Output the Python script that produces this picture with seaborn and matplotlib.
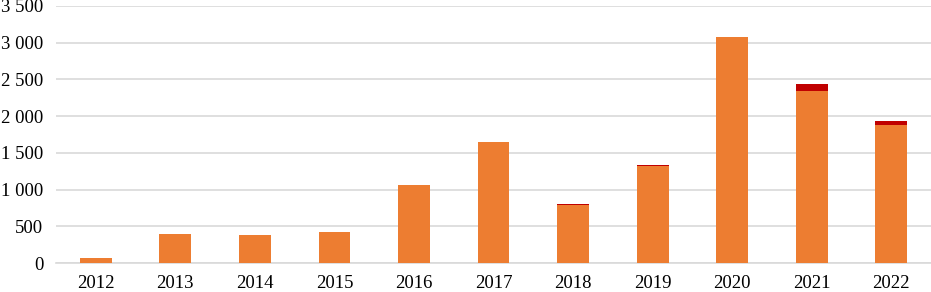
import matplotlib
matplotlib.use("Agg")
import matplotlib.pyplot as plt
import seaborn as sns
import pandas as pd

years = ["2012", "2013", "2014", "2015", "2016", "2017", "2018", "2019", "2020", "2021", "2022"]
orange_vals = [70, 390, 375, 425, 1065, 1645, 795, 1325, 3075, 2345, 1880]
red_vals = [0, 0, 0, 0, 0, 0, 10, 10, 0, 90, 55]
yticks = [0, 500, 1000, 1500, 2000, 2500, 3000, 3500]
ytick_labels = ["0", "500", "1 000", "1 500", "2 000", "2 500", "3 000", "3 500"]

sns.set_theme(style="white")
plt.rcParams["font.family"] = ["Liberation Serif", "DejaVu Serif"]

df = pd.DataFrame({"year": years, "orange": orange_vals,
                   "total": [o + r for o, r in zip(orange_vals, red_vals)]})

fig = plt.figure(figsize=(9.31, 2.92), dpi=100)
ax = fig.add_axes([56 / 931, 29 / 292, 875 / 931, 257 / 292])

sns.barplot(data=df, x="year", y="total", color="#C00000", saturation=1, width=0.4,
            linewidth=0, ax=ax, zorder=3)
sns.barplot(data=df, x="year", y="orange", color="#ED7D31", saturation=1, width=0.4,
            linewidth=0, ax=ax, zorder=4)

ax.set_ylim(0, 3500)
ax.set_yticks(yticks)
ax.set_yticklabels(ytick_labels)
ax.set_xlim(-0.5, len(years) - 0.5)
ax.yaxis.grid(True, color="#d9d9d9", linewidth=1.2, zorder=0)
ax.set_axisbelow(True)
for s in ["top", "right", "left"]:
    ax.spines[s].set_visible(False)
ax.spines["bottom"].set_color("#d9d9d9")
ax.spines["bottom"].set_linewidth(1.2)
ax.set_xlabel("")
ax.set_ylabel("")
ax.tick_params(axis="both", length=0, labelsize=13.5, colors="#000000")
ax.tick_params(axis="y", pad=9)
ax.tick_params(axis="x", pad=8.5)

fig.savefig("out.png", dpi=100)
